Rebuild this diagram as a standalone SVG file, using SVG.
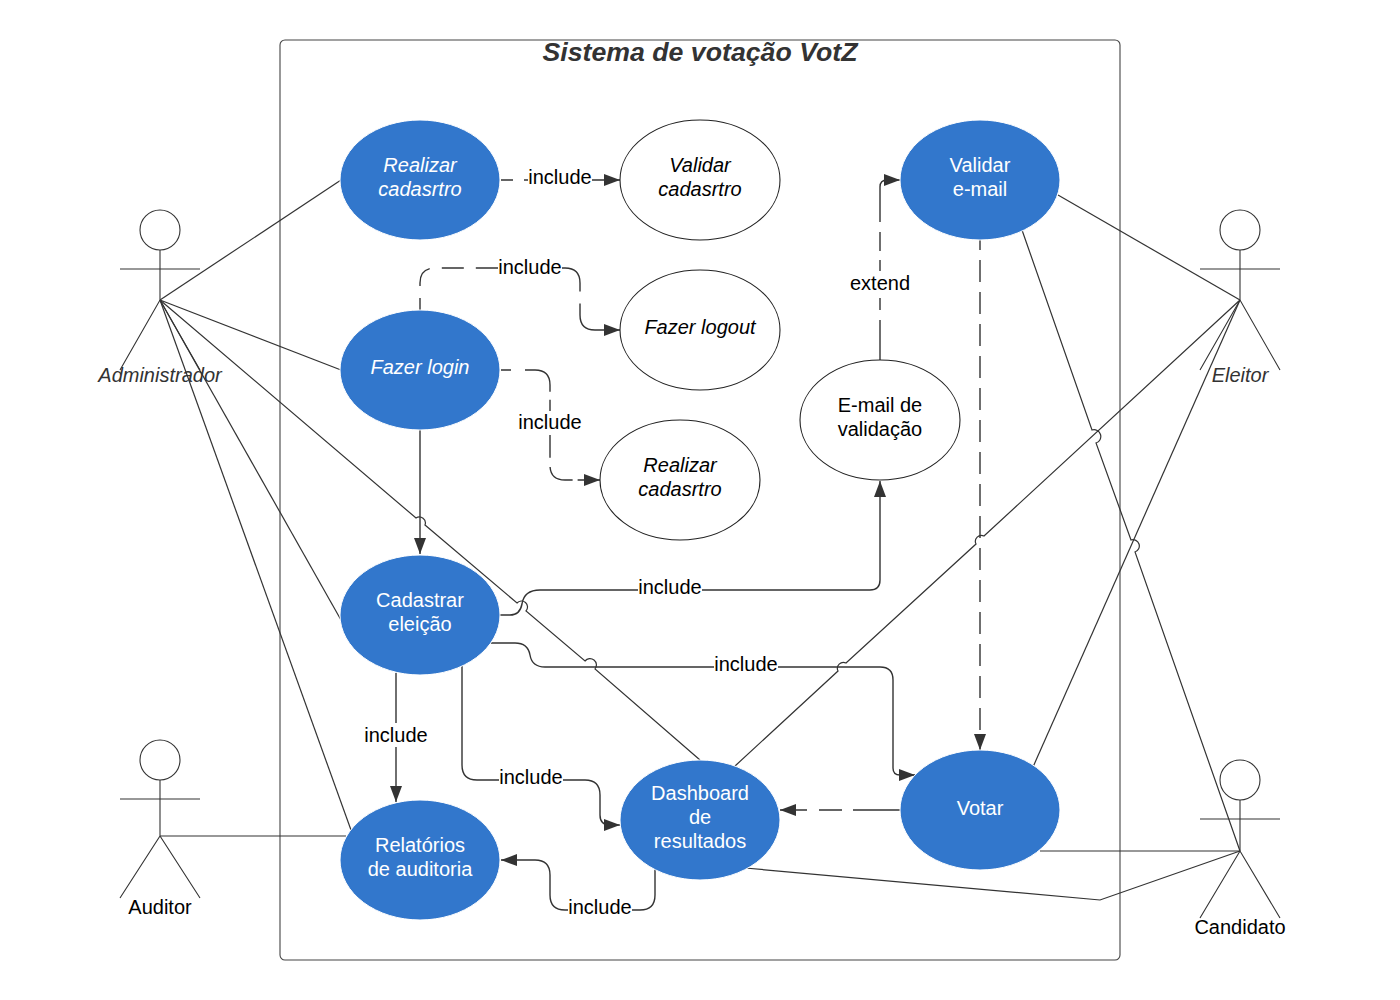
<svg xmlns="http://www.w3.org/2000/svg" width="1400" height="1000" viewBox="0 0 1400 1000">
<style>
text{font-family:"Liberation Sans",Arial,sans-serif;font-size:20px;text-anchor:middle;fill:#000}
.w{fill:#fff}.i{font-style:italic}.g{fill:#333}
.blue{fill:#3277cc;stroke:#fff;stroke-width:1}
.plain{fill:#fff;stroke:#222;stroke-width:1.1}
.l{fill:none;stroke:#333;stroke-width:1.2}
.a{fill:none;stroke:#333;stroke-width:1.4;marker-end:url(#arr)}
.bg{fill:#fff;stroke:none}
.actor *{fill:none;stroke:#333;stroke-width:1.1}
.actor text{stroke:none}
</style>
<defs>
<marker id="arr" markerUnits="userSpaceOnUse" markerWidth="20" markerHeight="14" refX="18" refY="7" orient="auto"><path d="M2 1 L18 7 L2 13 Z" fill="#333"/></marker>
</defs>
<rect id="frame" x="280" y="40" width="840" height="920" rx="5" fill="#fff" stroke="#444" stroke-width="1.1"/>
<text x="700" y="61" class="i g" style="font-size:26.7px;font-weight:bold">Sistema de votação VotZ</text>

<g id="connectors">
<path class="l" d="M160 300 L341 180"/>
<path class="l" d="M160 300 L341 370"/>
<path class="l" d="M160 300 L341 620"/>
<path class="l" d="M160 300 L351 830"/>
<path class="l" d="M160 300 L416 518 A6 6 0 0 1 425 525 L517 603 A6 6 0 0 1 526 611 L585 661 A6 6 0 0 1 595 669 L700 760"/>
<path class="l" d="M1240 300 L1058 195"/>
<path class="l" d="M1240 300 L984 536 A6 6 0 0 0 976 544 L846 663 A6 6 0 0 0 838 671 L735 766"/>
<path class="l" d="M1240 300 L1033 767"/>
<path class="l" d="M1022 230 L1092 430 A6 6 0 0 1 1096 443 L1131 540 A6 6 0 0 1 1135 552 L1240 851"/>
<path class="l" d="M1040 851 L1240 851"/>
<path class="l" d="M745 868 L1100 900 L1240 851"/>
<path class="l" d="M160 836 L346 836"/>

<path class="a" style="stroke-dasharray:12 11 200" d="M501 180 L620 180"/>
<path class="a" style="stroke-dasharray:12 12 22 12 22 12 122 12 200" d="M420 310 L420 283 Q420 268 435 268 L565 268 Q580 268 580 283 L580 315 Q580 330 595 330 L620 330"/>
<path class="a" style="stroke-dasharray:10 14 41 8 58 9 30 5 200" d="M501 370 L535 370 Q550 370 550 385 L550 465 Q550 480 565 480 L600 480"/>
<path class="a" style="stroke-dasharray:40 10 12 25 13 9 19 10 100" d="M880 360 L880 187 Q880 180 887 180 L900 180"/>
<path class="a" style="stroke-dasharray:22 10;stroke-dashoffset:12" d="M980 240 L980 750"/>
<path class="a" style="stroke-dasharray:47 11 23 12 100" d="M900 810 L780 810"/>
<path class="a" d="M420 430 L420 554"/>
<path class="a" d="M500 615 L510 615 Q520 615 522 604 Q524 590 540 590 L870 590 Q880 590 880 580 L880 481"/>
<path class="a" d="M491 643 L515 643 Q528 643 530 655 Q532 667 545 667 L880 667 Q893 667 893 680 L893 768 Q893 775 900 775 L915 775"/>
<path class="a" d="M396 673 L396 802"/>
<path class="a" d="M462 665 L462 765 Q462 780 477 780 L585 780 Q600 780 600 795 L600 815 Q600 825 610 825 L620 825"/>
<path class="a" d="M655 869 L655 895 Q655 910 640 910 L565 910 Q550 910 550 895 L550 875 Q550 860 535 860 L501 860"/>
<g id="connector-labels">
<rect class="bg" x="528" y="166" width="64" height="24"/><text x="560" y="184">include</text>
<rect class="bg" x="498" y="256" width="64" height="24"/><text x="530" y="274">include</text>
<rect class="bg" x="518" y="411" width="64" height="24"/><text x="550" y="429">include</text>
<rect class="bg" x="849" y="271" width="62" height="24"/><text x="880" y="290">extend</text>
<rect class="bg" x="638" y="576" width="64" height="24"/><text x="670" y="594">include</text>
<rect class="bg" x="714" y="652" width="64" height="24"/><text x="746" y="671">include</text>
<rect class="bg" x="364" y="723" width="64" height="24"/><text x="396" y="742">include</text>
<rect class="bg" x="499" y="766" width="64" height="24"/><text x="531" y="784">include</text>
<rect class="bg" x="568" y="896" width="64" height="24"/><text x="600" y="914">include</text>
</g>
</g>

<g id="realizar-cadastro-1"><ellipse class="blue" cx="420" cy="180" rx="80" ry="60"/><text class="w i" x="420" y="172">Realizar</text><text class="w i" x="420" y="196">cadasrtro</text></g>
<g id="validar-cadastro"><ellipse class="plain" cx="700" cy="180" rx="80" ry="60"/><text class="i" x="700" y="172">Validar</text><text class="i" x="700" y="196">cadasrtro</text></g>
<g id="validar-email"><ellipse class="blue" cx="980" cy="180" rx="80" ry="60"/><text class="w" x="980" y="172">Validar</text><text class="w" x="980" y="196">e-mail</text></g>
<g id="fazer-logout"><ellipse class="plain" cx="700" cy="330" rx="80" ry="60"/><text class="i" x="700" y="334">Fazer logout</text></g>
<g id="fazer-login"><ellipse class="blue" cx="420" cy="370" rx="80" ry="60"/><text class="w i" x="420" y="374">Fazer login</text></g>
<g id="realizar-cadastro-2"><ellipse class="plain" cx="680" cy="480" rx="80" ry="60"/><text class="i" x="680" y="472">Realizar</text><text class="i" x="680" y="496">cadasrtro</text></g>
<g id="email-validacao"><ellipse class="plain" cx="880" cy="420" rx="80" ry="60"/><text x="880" y="412">E-mail de</text><text x="880" y="436">validação</text></g>
<g id="cadastrar-eleicao"><ellipse class="blue" cx="420" cy="615" rx="80" ry="60"/><text class="w" x="420" y="607">Cadastrar</text><text class="w" x="420" y="631">eleição</text></g>
<g id="relatorios"><ellipse class="blue" cx="420" cy="860" rx="80" ry="60"/><text class="w" x="420" y="852">Relatórios</text><text class="w" x="420" y="876">de auditoria</text></g>
<g id="dashboard"><ellipse class="blue" cx="700" cy="820" rx="80" ry="60"/><text class="w" x="700" y="800">Dashboard</text><text class="w" x="700" y="824">de</text><text class="w" x="700" y="848">resultados</text></g>
<g id="votar"><ellipse class="blue" cx="980" cy="810" rx="80" ry="60"/><text class="w" x="980" y="815">Votar</text></g>

<g id="administrador" class="actor"><circle cx="160" cy="230" r="20"/><path d="M160 250 V300 M120 269 H200 M120 370 L160 300 L200 370"/><text class="i" style="fill:#333" x="160" y="382">Administrador</text></g>
<g id="eleitor" class="actor"><circle cx="1240" cy="230" r="20"/><path d="M1240 250 V300 M1200 269 H1280 M1200 370 L1240 300 L1280 370"/><text class="i" style="fill:#333" x="1240" y="382">Eleitor</text></g>
<g id="auditor" class="actor"><circle cx="160" cy="760" r="20"/><path d="M160 780 V836 M120 799 H200 M120 898 L160 836 L200 898"/><text style="fill:#000" x="160" y="914">Auditor</text></g>
<g id="candidato" class="actor"><circle cx="1240" cy="780" r="20"/><path d="M1240 800 V851 M1200 819 H1280 M1200 918 L1240 851 L1280 918"/><text style="fill:#000" x="1240" y="934">Candidato</text></g>
</svg>
